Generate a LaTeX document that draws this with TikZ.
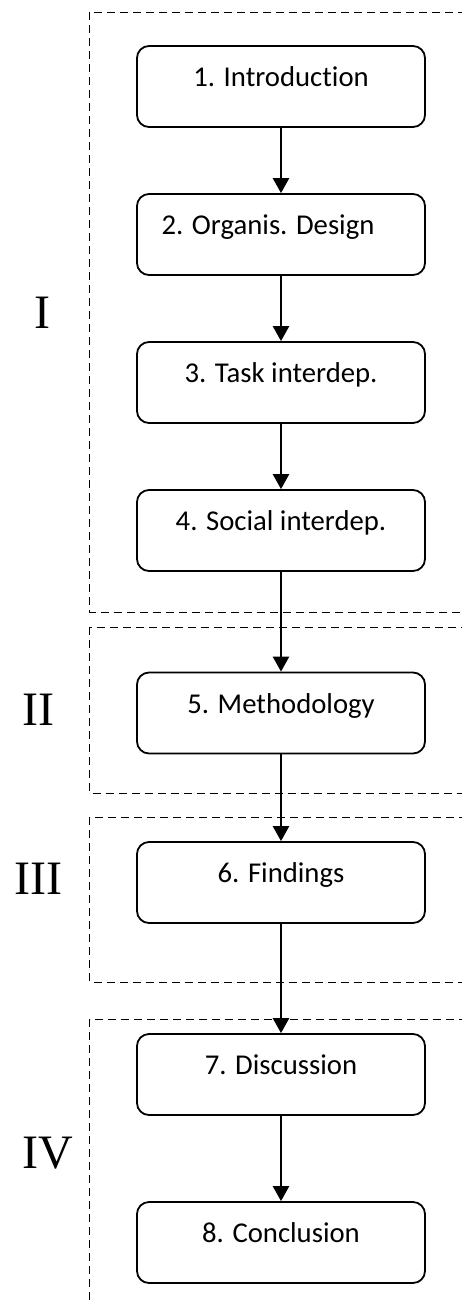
\documentclass[tikz,border=0pt]{standalone}
\usepackage{fontspec}
\setmainfont[Ligatures=NoCommon]{Carlito}
\newfontfamily\romanfont{Liberation Serif}
\usetikzlibrary{arrows.meta}
\begin{document}
\begin{tikzpicture}[x=1pt,y=-1pt,
  stage/.style={draw, line width=1.8pt, rounded corners=12pt,
    minimum width=288pt, minimum height=81pt, inner sep=0pt,
    text height=10pt, text depth=10pt,
    font=\fontsize{28.7}{34}\selectfont},
  part/.style={font=\romanfont\fontsize{48}{56}\selectfont, inner sep=0pt},
  group/.style={draw, line width=1pt, dash pattern=on 8pt off 5pt},
  flow/.style={line width=2.5pt, -{Triangle[width=16pt,length=15pt]}}]
  \clip (0,0) rectangle (462,1301);
  \fill[white] (0,0) rectangle (462,1301);

  % part frames (open towards the right)
  \draw[group] (89.5,12) rectangle (490,612);
  \draw[group] (89.5,627) rectangle (490,793);
  \draw[group] (89.5,817) rectangle (490,982);
  \draw[group] (89.5,1019) rectangle (490,1340);

  % part labels
  \node[part] (pI)   at (42.5,313) {I};
  \node[part] (pII)  at (38.5,710) {II};
  \node[part] (pIII) at (38.5,879) {III};
  \node[part] (pIV)  at (47.5,1153) {IV};

  % chapters
  \node[stage] (b1) at (281,86.5)  {1. Introduction};
  \node[stage] (b2) at (281,234.5) {2. Organis. Design\hspace*{26pt}};
  \node[stage] (b3) at (281,382.5) {3. Task interdep.};
  \node[stage] (b4) at (281,530.5) {4. Social interdep.};
  \node[stage] (b5) at (281,713)   {5. Methodology};
  \node[stage] (b6) at (281,882.5) {6. Findings};
  \node[stage] (b7) at (281,1074.5) {7. Discussion};
  \node[stage] (b8) at (281,1242.5) {8. Conclusion};

  % reading order
  \foreach \a/\b in {b1/b2,b2/b3,b3/b4,b4/b5,b5/b6,b6/b7,b7/b8}
    \draw[flow] (\a.south) -- (\b.north);
\end{tikzpicture}
\end{document}
